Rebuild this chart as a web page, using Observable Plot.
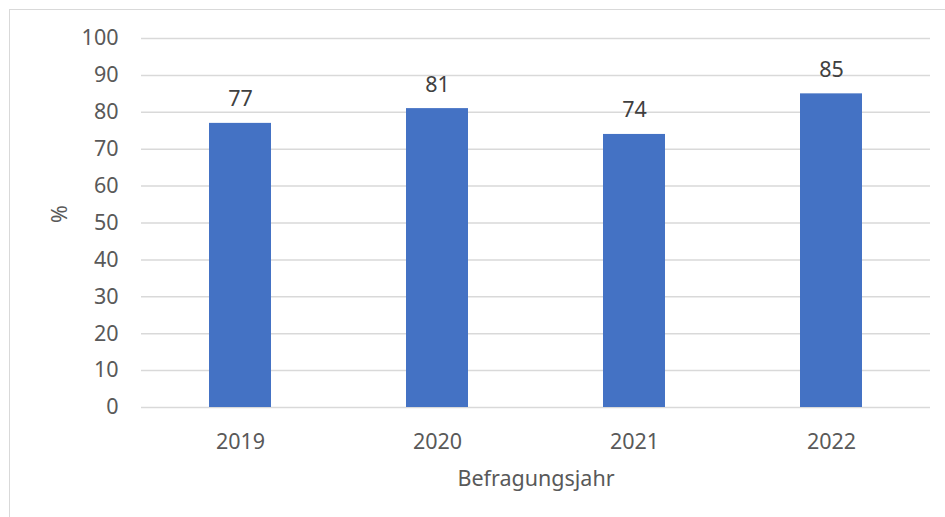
<!DOCTYPE html>
<html><head><meta charset="utf-8">
<script src="https://cdn.jsdelivr.net/npm/d3@7"></script>
<script src="https://cdn.jsdelivr.net/npm/@observablehq/plot@0.6"></script>
<style>
body{margin:0;background:#fff;}
#wrap{position:relative;width:945px;height:517px;overflow:hidden;}
#frame{position:absolute;left:9px;top:9px;width:960px;height:540px;border:1.5px solid #d9d9d9;box-sizing:border-box;}
#chart{position:absolute;left:0;top:0;}
</style></head>
<body><div id="wrap"><div id="frame"></div><div id="chart"></div></div>
<script>
const years = ["2019","2020","2021","2022"];
const values = [77,81,74,85];
const yTicks = [0,10,20,30,40,50,60,70,80,90,100];
const xTitle = "Befragungsjahr";
const yTitle = "%";

const data = years.map((y,i)=>({year:y, value:values[i]}));
const font = "'Noto Sans', 'Open Sans', sans-serif";
const txt = "#595959";
const fs = 21.5;

const chart = Plot.plot({
  width:945, height:517,
  marginLeft:141, marginRight:15, marginTop:38, marginBottom:110,
  style:{fontFamily:font, fontSize:fs+"px", color:txt, background:"transparent"},
  x:{domain:years, paddingInner:0.685, paddingOuter:0.3425, align:0.5, label:null},
  y:{domain:[0,100], label:null},
  marks:[
    Plot.ruleY(yTicks,{stroke:"#d9d9d9", strokeWidth:1.5}),
    Plot.barY(data,{x:"year", y:"value", fill:"#4472C4"}),
    Plot.text(data,{x:"year", y:"value", text:d=>String(d.value), lineAnchor:"bottom", dy:-17, fill:"#404040", fontSize:fs}),
    Plot.axisY({ticks:yTicks, tickSize:0, tickPadding:23, fill:txt, fontSize:fs, label:null}),
    Plot.axisX({tickSize:0, tickPadding:26, fill:txt, fontSize:fs, label:null}),
    Plot.text([xTitle],{frameAnchor:"bottom", dy:78, lineAnchor:"bottom", text:d=>d, fill:txt, fontSize:fs}),
    Plot.text([yTitle],{frameAnchor:"left", dx:-81, rotate:-90, text:d=>d, fill:txt, fontSize:fs})
  ]
});
document.getElementById("chart").appendChild(chart);
</script></body></html>
